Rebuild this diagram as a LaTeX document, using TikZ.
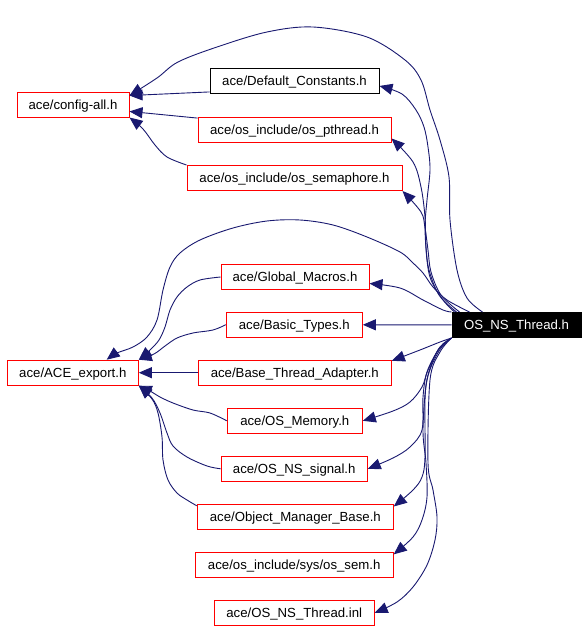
\documentclass[tikz,border=0pt]{standalone}
\usepackage{fontspec}
\setmainfont{Liberation Sans}
\usetikzlibrary{arrows.meta}
\definecolor{edgeblue}{HTML}{191970}
\tikzset{
  hdr/.style={draw=red, line width=1pt, minimum height=25pt, inner sep=0pt,
    text height=10pt, text depth=1pt, font=\fontsize{13.2}{15}\selectfont},
  plainhdr/.style={hdr, draw=black},
  roothdr/.style={hdr, draw=black, fill=black, text=white},
  incl/.style={edgeblue, line width=0.9pt, -{Triangle[length=13pt,width=11pt]}},
  inclcurve/.style={smooth, tension=0.55}
}
\begin{document}
\begin{tikzpicture}[x=1pt,y=-1pt]
\useasboundingbox (0,0) rectangle (588,631);

\node[hdr, minimum width=112pt] (configall) at (73,105.5) {ace/config-all.h};
\node[plainhdr, minimum width=169pt] (defconst) at (294.5,81.5) {ace/Default\_Constants.h};
\node[hdr, minimum width=193pt] (pthread) at (294.5,130) {ace/os\_include/os\_pthread.h};
\node[hdr, minimum width=215pt] (semaphore) at (294.5,178) {ace/os\_include/os\_semaphore.h};

\node[hdr, minimum width=148pt] (globalmacros) at (295,277) {ace/Global\_Macros.h};
\node[hdr, minimum width=136pt] (basictypes) at (294.3,324.7) {ace/Basic\_Types.h};
\node[roothdr, minimum width=129pt] (osnsthread) at (516.5,325) {OS\_NS\_Thread.h};
\node[hdr, minimum width=131pt] (aceexport) at (72.8,372.7) {ace/ACE\_export.h};
\node[hdr, minimum width=193pt] (basethread) at (294.8,372.7) {ace/Base\_Thread\_Adapter.h};
\node[hdr, minimum width=135pt] (osmemory) at (294.8,420.8) {ace/OS\_Memory.h};
\node[hdr, minimum width=146pt] (osnssignal) at (294.2,468.8) {ace/OS\_NS\_signal.h};
\node[hdr, minimum width=196pt] (objmgr) at (295.3,516.8) {ace/Object\_Manager\_Base.h};
\node[hdr, minimum width=198pt] (ossem) at (294.2,564.8) {ace/os\_include/sys/os\_sem.h};
\node[hdr, minimum width=160pt] (thrinl) at (294.2,612.8) {ace/OS\_NS\_Thread.inl};

\draw[incl] plot[inclcurve] coordinates {([xshift=31pt]osnsthread.north west) (467,298) (457,270) (450,220)
  (449,177) (440,140) (430,110) (421,80) (405,60) (367,37) (313,27) (267,32) (217,47) (178,62)
  (157,78) (configall.10)};
\draw[incl] (defconst.187) -- (configall.10);
\draw[incl] (pthread.173) -- (configall.-6);
\draw[incl] plot[inclcurve] coordinates {(semaphore.north west) (167,157) (155,145) (143,129) (configall.-12)};

\draw[incl] plot[inclcurve] coordinates {([xshift=18pt]osnsthread.north west) (447,300) (433,287) (423,273)
  (413,263) (400,252) (367,237) (333,225) (300,220) (267,221) (233,228) (200,240) (180,253)
  (170,267) (163,290) (157,320) (147,337) (133,347) (117,353) (aceexport.21)};
\draw[incl] plot[inclcurve] coordinates {(globalmacros.west) (200,280) (187,287) (177,297) (170,310)
  (165,327) (159,340) (150,350) (aceexport.north east)};
\draw[incl] plot[inclcurve] coordinates {(basictypes.west) (213,330) (193,333) (177,338) (165,346)
  (154,354) (aceexport.north east)};
\draw[incl] (basethread) -- (aceexport);
\draw[incl] plot[inclcurve] coordinates {(osmemory.west) (210,413) (193,410) (173,403) (160,397)
  (150,391) (aceexport.south east)};
\draw[incl] plot[inclcurve] coordinates {(osnssignal.west) (207,466) (187,457) (173,446) (167,433)
  (160,413) (152,398) (aceexport.south east)};
\draw[incl] plot[inclcurve] coordinates {([yshift=-2pt]objmgr.north west) (187,500) (177,493) (168,480)
  (163,460) (162,437) (158,413) (152,399) (aceexport.south east)};

\draw[incl] plot[inclcurve] coordinates {([xshift=3pt]osnsthread.north west) (443,300) (431,280)
  (427,260) (425,227) (427,200) (430,170) (428,147) (424,127) (416,110) (402,94) (defconst.-3)};
\draw[incl] plot[inclcurve] coordinates {([xshift=5pt]osnsthread.north west) (439,295) (429,270)
  (426,247) (425,217) (421,187) (413,162) (pthread.-5)};
\draw[incl] plot[inclcurve] coordinates {([xshift=8pt]osnsthread.north west) (441,295) (431,272)
  (428,250) (425,228) (421,212) (semaphore.south east)};
\draw[incl] plot[inclcurve] coordinates {(osnsthread.north west) (443,310) (423,300) (400,288)
  (globalmacros.-5)};
\draw[incl] (osnsthread) -- (basictypes);
\draw[incl] plot[inclcurve] coordinates {(osnsthread.south west) (440,342) (420,350) (basethread.7)};
\draw[incl] plot[inclcurve] coordinates {(osnsthread.south west) (440,347) (428,370) (422,387)
  (410,402) (393,411) (osmemory.east)};
\draw[incl] plot[inclcurve] coordinates {(osnsthread.south west) (439,349) (427,372) (423,397)
  (422,430) (410,447) (393,458) (osnssignal.east)};
\draw[incl] plot[inclcurve] coordinates {(osnsthread.south west) (438,350) (428,375) (425,400)
  (425,457) (422,477) (413,490) (objmgr.6)};
\draw[incl] plot[inclcurve] coordinates {(osnsthread.south west) (439,351) (427,380) (423,430)
  (426,463) (427,497) (422,520) (413,537) (ossem.6)};
\draw[incl] plot[inclcurve] coordinates {(osnsthread.south west) (440,352) (430,380) (428,463)
  (433,490) (437,517) (435,540) (427,565) (413,587) (397,602) (thrinl.east)};
\end{tikzpicture}
\end{document}
